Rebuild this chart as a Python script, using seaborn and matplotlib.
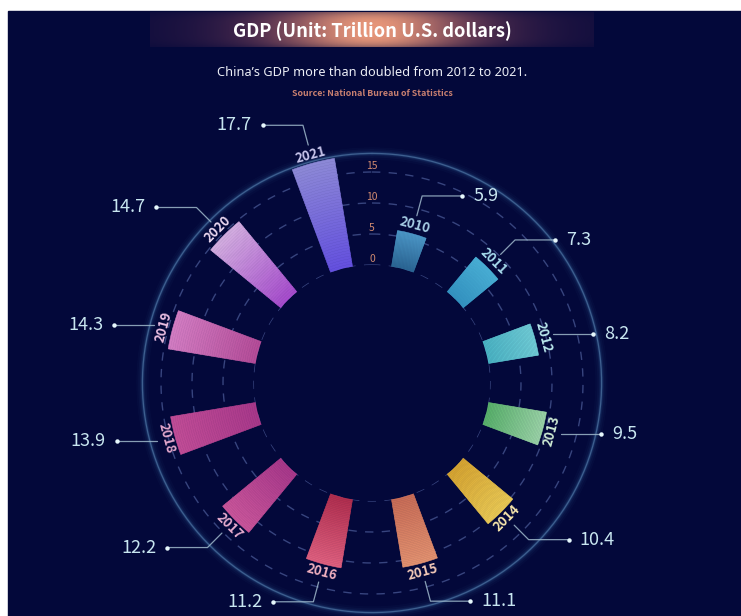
import numpy as np
import matplotlib
matplotlib.use("Agg")
import matplotlib.pyplot as plt
import matplotlib.colors as mcolors
from matplotlib.lines import Line2D
from matplotlib.patches import Rectangle
import seaborn as sns

# data
years = ["2010", "2011", "2012", "2013", "2014", "2015",
         "2016", "2017", "2018", "2019", "2020", "2021"]
gdp = [5.9, 7.3, 8.2, 9.5, 10.4, 11.1, 11.2, 12.2, 13.9, 14.3, 14.7, 17.7]
ring_ticks = [0, 5, 10, 15]

# bar gradients (inner end -> outer end)
inner_colors = ["#2b6694", "#3596c4", "#4ab4c4", "#58b06a", "#d6a430", "#c86c56",
                "#b02e4e", "#a8388a", "#a8388a", "#b44c98", "#a64ccc", "#6450de"]
outer_colors = ["#4c98c8", "#4ab2d8", "#70ccd6", "#9ad2a6", "#eac954", "#e2916f",
                "#de5f7e", "#c9559a", "#c04c96", "#d27cc2", "#d2acdf", "#8c88d6"]

sns.set_theme(style="dark")
plt.rcParams["font.family"] = ["Noto Sans CJK SC", "DejaVu Sans"]

W, H = 741, 616
BG = "#03083a"
fig = plt.figure(figsize=(W / 100, H / 100), dpi=100, facecolor="white")
fig.add_artist(Rectangle((8 / W, 0), 1, (H - 11) / H, transform=fig.transFigure,
                         color=BG, zorder=-10))

# polar axes geometry (pixels)
cx, cy = 372, H - 383
scale = 6.2          # px per trillion
r0 = 118             # px, radius of the empty hole
rmax = 19
R = (rmax + r0 / scale) * scale
ax = fig.add_axes([(cx - R) / W, (cy - R) / H, 2 * R / W, 2 * R / H], projection="polar")
ax.set_theta_zero_location("N")
ax.set_theta_direction(-1)
ax.set_ylim(0, rmax)
ax.set_rorigin(-r0 / scale)
ax.set_axis_off()

t = np.linspace(0, 2 * np.pi, 500)

# dashed rings + tick labels
for r in ring_ticks:
    ax.plot(t, np.full_like(t, r), color="#37447e", lw=1.0, ls=(0, (6, 6)), zorder=1)
    ax.text(0, r + 1.0, str(r), ha="center", va="center", fontsize=7.5,
            color="#d08a70", zorder=2)

# glowing outer ring
for lw, a in [(9, 0.04), (6, 0.06), (3.5, 0.1), (2, 0.18)]:
    ax.plot(t, np.full_like(t, 18), color="#3f7ab4", lw=lw, alpha=a, zorder=1)
ax.plot(t, np.full_like(t, 18), color="#6f9ec8", lw=0.9, alpha=0.45, zorder=1)

angles_deg = 15 + 30 * np.arange(len(years))
theta = np.deg2rad(angles_deg)
bar_w = np.deg2rad(11)

n = 40
for i, v in enumerate(gdp):
    edges = np.linspace(0, v, n + 1)
    cols = sns.blend_palette([inner_colors[i], outer_colors[i]], n)
    ax.bar(np.full(n, theta[i]), np.diff(edges), bottom=edges[:-1], width=bar_w,
           color=cols, edgecolor=cols, linewidth=0.4, zorder=3)

    deg = angles_deg[i]
    rot = -deg
    if 90 < deg < 270:
        rot += 180
    lab_c = sns.blend_palette([outer_colors[i], "#ffffff"], 3)[1]
    ax.text(theta[i], v + 1.4, years[i], rotation=rot, rotation_mode="anchor",
            ha="center", va="center", fontsize=9.5, fontweight="bold",
            color=lab_c, zorder=4)

# leader lines, dots and values
to_fig = fig.transFigure.inverted()
line_c = "#9fb9cc"
for i, v in enumerate(gdp):
    deg = angles_deg[i]
    side = 1 if deg < 180 else -1
    p_start = ax.transData.transform((theta[i], v + 3.0))
    if abs(np.sin(theta[i])) > 0.9:
        p_elbow = p_start
    else:
        p_elbow = ax.transData.transform((theta[i], v + 6.3))
    p_dot = p_elbow + np.array([side * 40, 0])
    pts = to_fig.transform(np.array([p_start, p_elbow, p_dot]))
    fig.add_artist(Line2D(pts[:, 0], pts[:, 1], transform=fig.transFigure,
                          color=line_c, lw=0.9, alpha=0.85))
    fig.add_artist(Line2D([pts[2, 0]], [pts[2, 1]], transform=fig.transFigure,
                          marker="o", ms=3.2, color="#e6f7fc", mew=0, lw=0))
    p_txt = to_fig.transform(p_dot + np.array([side * 11, 0]))
    fig.text(p_txt[0], p_txt[1], f"{v}", ha="left" if side > 0 else "right",
             va="center", fontsize=13, fontweight="medium", color="#c8e6f0")

# title band with glow
band = fig.add_axes([150 / W, (H - 47) / H, 444 / W, 35 / H])
band.axis("off")
xx = np.linspace(-1, 1, 400)
yy = np.linspace(-1, 1, 40)
X, Y = np.meshgrid(xx, yy)
g = np.exp(-(X / 0.45) ** 2)
c_mid = np.array(mcolors.to_rgb("#e8977a"))
c_edge = np.array(mcolors.to_rgb("#7a3a58"))
img = np.zeros((40, 400, 4))
img[..., :3] = c_edge * (1 - g[..., None]) + c_mid * g[..., None]
img[..., 3] = (0.1 + 0.9 * np.exp(-(X / 0.6) ** 2)) * (1 - 0.35 * np.abs(Y) ** 4)
band.imshow(img, aspect="auto", extent=[0, 1, 0, 1], interpolation="bilinear")
band.set_xlim(0, 1)
band.set_ylim(0, 1)

fig.text(cx / W, (H - 31) / H, "GDP (Unit: Trillion U.S. dollars)", ha="center",
         va="center", fontsize=13.2, fontweight="bold", color="white")
fig.text(cx / W, (H - 72) / H, "China’s GDP more than doubled from 2012 to 2021.",
         ha="center", va="center", fontsize=9.2, fontweight="medium", color="#eceef6",
         family=["Noto Sans", "DejaVu Sans"])
fig.text(cx / W, (H - 94) / H, "Source: National Bureau of Statistics", ha="center",
         va="center", fontsize=6.4, fontweight="bold", color="#c98070")

fig.savefig("out.png", dpi=100, facecolor="white")
